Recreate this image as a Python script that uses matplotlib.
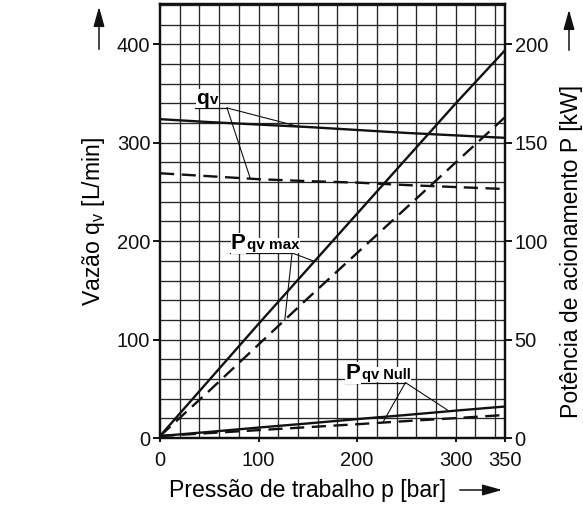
import matplotlib
matplotlib.use("Agg")
import matplotlib.pyplot as plt
from matplotlib.patches import FancyArrowPatch

plt.rcParams["font.family"] = ["Liberation Sans", "DejaVu Sans"]

# ---- data ----
p_bar = [0, 50, 100, 150, 200, 250, 300, 350]
# flow (L/min), left axis
qv_solid  = [324, 321, 318.5, 316, 313, 310, 307.5, 305]
qv_dashed = [269, 266, 263, 261, 259.5, 257, 255, 253]
# drive power (kW), right axis
pmax_solid   = [1, 29.5, 58, 86, 114, 142, 170, 197]
pmax_dashed  = [1, 24, 47.5, 71, 94, 117, 140, 163]
pnull_solid  = [1, 3.1, 5.3, 7.4, 9.6, 11.7, 13.9, 16]
pnull_dashed = [1, 2.5, 4, 5.5, 7, 8.6, 10.1, 11.7]

x_ticks = [0, 100, 200, 300, 350]
yl_ticks = [0, 100, 200, 300, 400]
yr_ticks = [0, 50, 100, 150, 200]

INK = "#111111"
DASH = (0, (6, 3.2))

fig = plt.figure(figsize=(5.83, 5.08), dpi=100)
ax = fig.add_axes([160 / 583, 1 - 438 / 508, 345 / 583, 434 / 508])
ax2 = ax.twinx()

ax.set_xlim(0, 350)
ax.set_ylim(0, 441)
ax2.set_ylim(0, 220.5)

# grid every 20 units
for gx in range(20, 350, 20):
    ax.axvline(gx, color="#262626", lw=0.95, zorder=1)
for gy in range(20, 441, 20):
    ax.axhline(gy, color="#262626", lw=0.95, zorder=1)

ax.plot(p_bar, qv_solid, color=INK, lw=1.7, zorder=3)
ax.plot(p_bar, qv_dashed, color=INK, lw=1.7, ls=DASH, zorder=3)
ax2.plot(p_bar, pmax_solid, color=INK, lw=1.7, zorder=3)
ax2.plot(p_bar, pmax_dashed, color=INK, lw=1.7, ls=DASH, zorder=3)
ax2.plot(p_bar, pnull_solid, color=INK, lw=1.7, zorder=3)
ax2.plot(p_bar, pnull_dashed, color=INK, lw=1.7, ls=DASH, zorder=3)

for a in (ax, ax2):
    for s in a.spines.values():
        s.set_linewidth(1.6)
        s.set_color(INK)

ax.set_xticks(x_ticks)
ax.set_yticks(yl_ticks)
ax2.set_yticks(yr_ticks)
ax.tick_params(axis="both", direction="out", length=5, width=1.4, labelsize=14.5, colors=INK, pad=2)
ax2.tick_params(axis="y", direction="out", length=5, width=1.4, labelsize=14.5, colors=INK, pad=2)
ax.tick_params(axis="x", length=3, pad=6)

ax.set_ylabel("Vazão q$_\\mathregular{v}$ [L/min]", fontsize=16.6)
ax.yaxis.set_label_coords(-0.154, 0.5)
ax2.set_ylabel("Potência de acionamento P [kW]", fontsize=16.6)
ax2.yaxis.set_label_coords(1.159, 0.431)
ax.text(0.4275, -0.12, "Pressão de trabalho p [bar]", transform=ax.transAxes,
        fontsize=16.6, ha="center", va="center")

# arrows
arr = dict(arrowstyle="-|>,head_length=1.0,head_width=0.28", color=INK, lw=1.1)
for (x0, y0), (x1, y1) in [((99, 456), (99, 504)), ((569, 455), (569, 501)), ((457, 18), (505, 18))]:
    fig.add_artist(FancyArrowPatch((x0 / 583, y0 / 508), (x1 / 583, y1 / 508),
                                   transform=fig.transFigure, mutation_scale=12, **arr))

# curve labels with underline + leader lines
fig.canvas.draw()
renderer = fig.canvas.get_renderer()
white = dict(facecolor="white", edgecolor="none", pad=0.3)

def tag(x0, x1, y, main, sub, main_size, sub_size, ends):
    ax.plot([x0, x1], [y, y], color=INK, lw=0.9, zorder=4)
    t = ax.text(x0 + 1, y + 4, main, fontsize=main_size, fontweight="bold", ha="left",
                va="baseline", zorder=5, bbox=white)
    bb = t.get_window_extent(renderer)
    xs = ax.transData.inverted().transform((bb.x1 + 1, 0))[0]
    ax.text(xs, y + 4, sub, fontsize=sub_size, fontweight="bold",
            ha="left", va="baseline", zorder=5, bbox=white)
    for ex, ey in ends:
        ax.plot([x1, ex], [y, ey], color=INK, lw=0.8, zorder=4)

tag(35.5, 68, 335.4, "q", "v", 15, 11, [(139.8, 316.7), (91.2, 264.9)])
tag(71, 134, 188, "P", "qv max", 16, 11, [(157, 179.4), (126.6, 120)])
tag(187.4, 249, 56.3, "P", "qv Null", 16, 10.5, [(291.5, 28.5), (226.2, 16)])

fig.savefig("out.png", dpi=100, facecolor="white")
